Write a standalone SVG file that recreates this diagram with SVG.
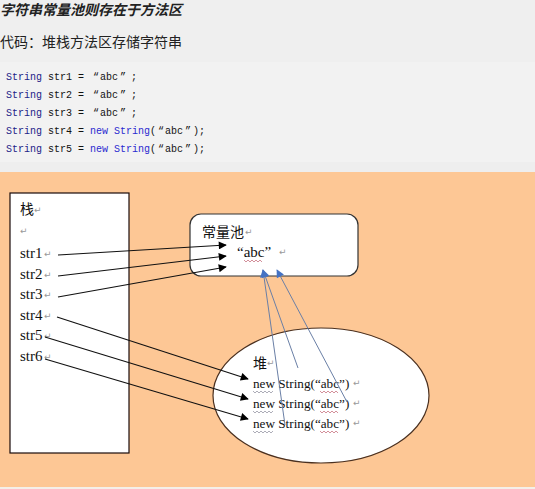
<svg xmlns="http://www.w3.org/2000/svg" width="535" height="489" viewBox="0 0 535 489">
<defs>
<marker id="ab" viewBox="0 0 10 10" refX="9" refY="5" markerWidth="10" markerHeight="8" markerUnits="userSpaceOnUse" orient="auto"><path d="M0,0 L10,5 L0,10 z" fill="#000"/></marker>
<marker id="ablue" viewBox="0 0 10 10" refX="9" refY="5" markerWidth="11" markerHeight="8" markerUnits="userSpaceOnUse" orient="auto"><path d="M0,0 L10,5 L0,10 z" fill="#4472c4"/></marker>
<style>
.hd{font-family:"Noto Sans CJK SC","Liberation Sans",sans-serif;font-size:14px;fill:#222}
.code{font-family:"Liberation Mono",monospace;font-size:10px;fill:#111}
.kw{fill:#222288}
.kw2{fill:#2a2ad0}
.lbl{font-family:"Liberation Serif","Noto Sans CJK SC",serif;font-size:15px;fill:#111}
.heapt{font-family:"Liberation Serif","Noto Sans CJK SC",serif;font-size:13.2px;fill:#111}
.cjk{font-family:"Noto Sans CJK SC",sans-serif;font-size:14px;fill:#111}
.ret{font-family:"DejaVu Sans",sans-serif;font-size:9px;fill:#999}
.blk{stroke:#111;stroke-width:1.2;fill:none;marker-end:url(#ab)}
.blu{stroke:#6a7fa6;stroke-width:1;fill:none;marker-end:url(#ablue)}
.wav{stroke:#c06070;stroke-width:0.7;fill:none}
.wavg{stroke:#8a8a9a;stroke-width:0.7;fill:none}
</style>
</defs>
<rect x="0" y="0" width="535" height="62" fill="#efefef"/>
<rect x="0" y="62" width="535" height="100" fill="#f2f2f2"/>
<rect x="0" y="162" width="535" height="10" fill="#eeeeee"/>
<rect x="0" y="172" width="535" height="315" fill="#fdc795"/>
<rect x="0" y="487" width="535" height="2" fill="#f4efe9"/>

<g id="header">
<text class="hd" x="0" y="15" font-weight="bold" font-style="italic">字符串常量池则存在于方法区</text>
<text class="hd" x="0" y="47" fill="#333">代码：堆栈方法区存储字符串</text>
</g>
<g id="code" class="code">
<text x="6" y="80"><tspan class="kw">String</tspan> str1 = <tspan x="93">“</tspan><tspan x="100">abc</tspan><tspan x="120">”</tspan><tspan x="131">;</tspan></text>
<text x="6" y="98"><tspan class="kw">String</tspan> str2 = <tspan x="93">“</tspan><tspan x="100">abc</tspan><tspan x="120">”</tspan><tspan x="131">;</tspan></text>
<text x="6" y="116"><tspan class="kw">String</tspan> str3 = <tspan x="93">“</tspan><tspan x="100">abc</tspan><tspan x="120">”</tspan><tspan x="131">;</tspan></text>
<text x="6" y="134"><tspan class="kw">String</tspan> str4 = <tspan class="kw2">new String</tspan>(<tspan x="158">“</tspan><tspan x="165">abc</tspan><tspan x="185">”</tspan><tspan x="193">);</tspan></text>
<text x="6" y="152"><tspan class="kw">String</tspan> str5 = <tspan class="kw2">new String</tspan>(<tspan x="158">“</tspan><tspan x="165">abc</tspan><tspan x="185">”</tspan><tspan x="193">);</tspan></text>
</g>

<g id="stack">
<rect x="10" y="193" width="119" height="260" fill="#fff" stroke="#1a0a0a" stroke-width="1.2"/>
<text class="cjk" x="20" y="214">栈</text><text class="ret" x="34" y="213">↵</text>
<text class="ret" x="20" y="234">↵</text>
<text class="lbl" x="20" y="258">str1</text><text class="ret" x="44" y="257">↵</text>
<text class="lbl" x="20" y="279">str2</text><text class="ret" x="44" y="278">↵</text>
<text class="lbl" x="20" y="299">str3</text><text class="ret" x="44" y="298">↵</text>
<text class="lbl" x="20" y="320">str4</text><text class="ret" x="44" y="319">↵</text>
<text class="lbl" x="20" y="340">str5</text><text class="ret" x="44" y="339">↵</text>
<text class="lbl" x="20" y="361">str6</text><text class="ret" x="44" y="360">↵</text>
</g>

<g id="pool">
<rect x="190" y="214" width="168" height="62" rx="11" fill="#fff" stroke="#333" stroke-width="1.2"/>
<text class="cjk" x="202" y="237">常量池</text><text class="ret" x="245" y="235">↵</text>
<text class="lbl" x="237" y="257" font-size="14">“abc”</text><text class="ret" x="279" y="255">↵</text>
<path class="wav" d="M244,260 l2,2 l2,-2 l2,2 l2,-2 l2,2 l2,-2 l2,2 l2,-2 l2,2"/>
</g>

<g id="heap">
<ellipse cx="321" cy="395.5" rx="108" ry="67.5" fill="#fff" stroke="#4a3020" stroke-width="1.2"/>
<text class="cjk" x="253" y="368">堆</text><text class="ret" x="267" y="366">↵</text>
<text class="heapt" x="253" y="388">new String(“abc”)</text><text class="ret" x="353" y="386">↵</text>
<text class="heapt" x="253" y="408">new String(“abc”)</text><text class="ret" x="353" y="406">↵</text>
<text class="heapt" x="253" y="428">new String(“abc”)</text><text class="ret" x="353" y="426">↵</text>
<path class="wavg" d="M253,391 l2,2 l2,-2 l2,2 l2,-2 l2,2 l2,-2 l2,2 l2,-2 l2,2 l2,-2"/>
<path class="wavg" d="M253,411 l2,2 l2,-2 l2,2 l2,-2 l2,2 l2,-2 l2,2 l2,-2 l2,2 l2,-2"/>
<path class="wavg" d="M253,431 l2,2 l2,-2 l2,2 l2,-2 l2,2 l2,-2 l2,2 l2,-2 l2,2 l2,-2"/>
<path class="wav" d="M320,391 l2,2 l2,-2 l2,2 l2,-2 l2,2 l2,-2 l2,2 l2,-2 l2,2"/>
<path class="wav" d="M320,411 l2,2 l2,-2 l2,2 l2,-2 l2,2 l2,-2 l2,2 l2,-2 l2,2"/>
<path class="wav" d="M320,431 l2,2 l2,-2 l2,2 l2,-2 l2,2 l2,-2 l2,2 l2,-2 l2,2"/>
</g>

<g id="connectors">
<line class="blk" x1="58" y1="255" x2="226" y2="245"/>
<line class="blk" x1="58" y1="276" x2="226" y2="256"/>
<line class="blk" x1="58" y1="297" x2="226" y2="267"/>
<line class="blk" x1="57" y1="317" x2="248" y2="379"/>
<line class="blk" x1="45" y1="337" x2="248" y2="399"/>
<line class="blk" x1="45" y1="359" x2="248" y2="419"/>
<line class="blu" x1="285" y1="425" x2="263" y2="270"/>
<line class="blu" x1="298" y1="368" x2="263" y2="270"/>
<line class="blu" x1="347" y1="402" x2="277" y2="270"/>
</g>
</svg>
